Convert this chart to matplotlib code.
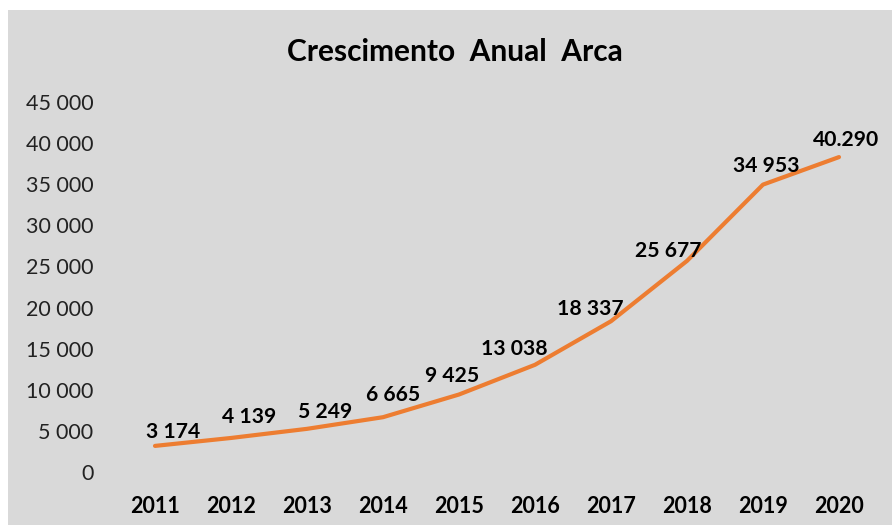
import matplotlib
matplotlib.use("Agg")
import matplotlib.pyplot as plt
from matplotlib.patches import Rectangle

years = ["2011", "2012", "2013", "2014", "2015", "2016", "2017", "2018", "2019", "2020"]
values = [3174, 4139, 5249, 6665, 9425, 13038, 18337, 25677, 34953, 38300]
value_labels = ["3 174", "4 139", "5 249", "6 665", "9 425", "13 038", "18 337", "25 677", "34 953", "40.290"]
yticks = [0, 5000, 10000, 15000, 20000, 25000, 30000, 35000, 40000, 45000]
ytick_labels = ["0", "5 000", "10 000", "15 000", "20 000", "25 000", "30 000", "35 000", "40 000", "45 000"]

# label offsets in pixels (dx, dy)
offsets = [(18, 14), (18, 21), (18, 17), (10, 22), (-7, 19), (-21, 16), (-21, 12), (-19, 10), (3, 19), (7, 17)]

plt.rcParams['font.family'] = ['Lato', 'DejaVu Sans']

W, H = 892, 525
fig = plt.figure(figsize=(W / 100, H / 100), dpi=100)
fig.patch.set_facecolor("white")
bg = Rectangle((8 / W, 0), 1 - 8 / W, 1 - 10 / H, transform=fig.transFigure,
               facecolor="#d9d9d9", edgecolor="none", zorder=-10)
fig.patches.append(bg)

ax = fig.add_axes([117 / W, 1 - 472 / H, (877 - 117) / W, (472 - 102) / H])
ax.set_zorder(1)
ax.set_facecolor("none")
x = list(range(len(years)))
ax.plot(x, values, color="#ed7d31", linewidth=3, solid_capstyle="round")
ax.set_xlim(-0.5, len(years) - 0.5)
ax.set_ylim(0, 45000)
ax.set_yticks(yticks)
ax.set_yticklabels(ytick_labels, fontsize=15.5, color="#222222")
ax.set_xticks(x)
ax.set_xticklabels(years, fontsize=15.5, fontweight="bold", color="black")
ax.tick_params(axis="y", length=0, pad=17)
ax.tick_params(axis="x", length=0, pad=17)
for s in ax.spines.values():
    s.set_visible(False)

for xi, v, lab, (dx, dy) in zip(x, values, value_labels, offsets):
    ax.annotate(lab, (xi, v), xytext=(dx, dy), textcoords="offset pixels",
                ha="center", va="center", fontsize=15.2, fontweight="bold", color="black")

fig.text(455 / W, 1 - 52 / H, "Crescimento  Anual  Arca", ha="center", va="center",
         fontsize=21.5, fontweight="bold", color="black", zorder=2)

fig.savefig("out.png", dpi=100, facecolor=fig.get_facecolor())
